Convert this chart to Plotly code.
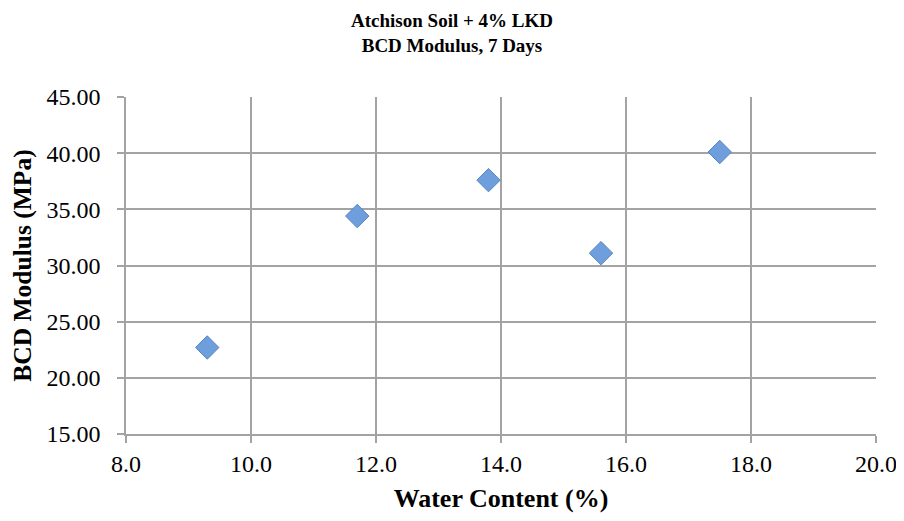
import plotly.graph_objects as go

water_content = [9.3, 11.7, 13.8, 15.6, 17.5]
bcd_modulus = [22.7, 34.4, 37.6, 31.1, 40.1]

x_ticks = [8.0, 10.0, 12.0, 14.0, 16.0, 18.0, 20.0]
y_ticks = [15, 20, 25, 30, 35, 40, 45]

fig = go.Figure()
fig.add_trace(go.Scatter(
    x=water_content, y=bcd_modulus, mode="markers",
    marker=dict(symbol="diamond", size=18, color="#6F9EDC",
                line=dict(color="#5584C4", width=1)),
    cliponaxis=False,
))

font = "Liberation Serif, Times New Roman, serif"
grid = "#A3A3A3"
fig.update_layout(
    width=888, height=505,
    margin=dict(l=118, r=20, t=89, b=79),
    paper_bgcolor="white", plot_bgcolor="white",
    showlegend=False,
    title=dict(text="<b>Atchison Soil + 4% LKD<br>BCD Modulus, 7 Days</b>",
               x=0.5, xanchor="center", y=0.962, yanchor="top",
               font=dict(family=font, size=19, color="black")),
    font=dict(family=font, color="black"),
)
fig.update_xaxes(
    automargin=False,
    range=[8, 20], tickvals=x_ticks, ticktext=[f"{v:.1f}" for v in x_ticks],
    showgrid=True, gridcolor=grid, gridwidth=1.5,
    showline=True, linecolor=grid, linewidth=1.5,
    ticks="outside", ticklen=7, tickcolor=grid, tickwidth=1.5,
    ticklabelstandoff=0, ticklabeloverflow="allow",
    tickfont=dict(family=font, size=24), zeroline=False,
    title=dict(text="<b>Water Content (%)</b>", font=dict(family=font, size=26), standoff=23),
)
fig.update_yaxes(
    automargin=False,
    range=[15, 45], tickvals=y_ticks, ticktext=[f"{v:.2f}" for v in y_ticks],
    showgrid=True, gridcolor=grid, gridwidth=1.5,
    showline=True, linecolor=grid, linewidth=1.5,
    ticks="outside", ticklen=7, tickcolor=grid, tickwidth=1.5,
    ticklabelstandoff=12, ticklabeloverflow="allow",
    tickfont=dict(family=font, size=24), zeroline=False,
    title=dict(text="<b>BCD Modulus (MPa)</b>", font=dict(family=font, size=25.5), standoff=8),
)

fig.write_html("out.html")
